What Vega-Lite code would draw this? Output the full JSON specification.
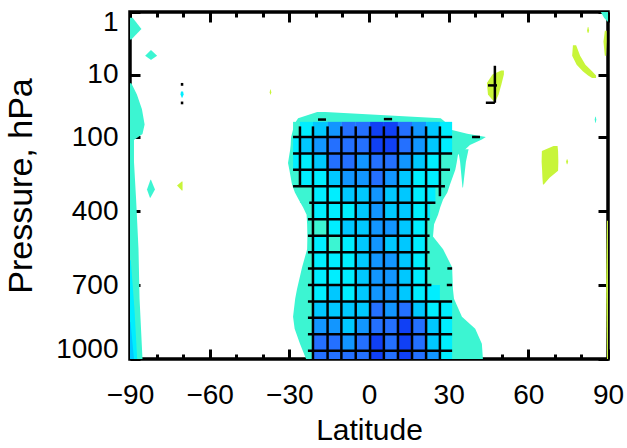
{
"$schema":"https://vega.github.io/schema/vega-lite/v6.json",
"width":478,"height":347,
"autosize":{"type":"none"},
"padding":{"left":130,"top":12,"right":19,"bottom":89},
"background":"white",
"datasets":{
"blobs":[
{"id":"core","c":"T","p":41,"l":-19.5,"r":-16.5},
{"id":"core","c":"T","p":50,"l":-26.7,"r":27},
{"id":"core","c":"T","p":57.5,"l":-27.5,"r":28.5},
{"id":"core","c":"T","p":77,"l":-28.6,"r":30.5},
{"id":"core","c":"T","p":90,"l":-29,"r":37},
{"id":"core","c":"T","p":100,"l":-29.3,"r":44},
{"id":"core","c":"T","p":110,"l":-29.4,"r":42.5},
{"id":"core","c":"T","p":132,"l":-29.5,"r":38},
{"id":"core","c":"T","p":153,"l":-29.7,"r":36},
{"id":"core","c":"T","p":172,"l":-30,"r":33.5},
{"id":"core","c":"T","p":205,"l":-30.5,"r":33},
{"id":"core","c":"T","p":233,"l":-30,"r":32.5},
{"id":"core","c":"T","p":293,"l":-29,"r":30.5},
{"id":"core","c":"T","p":325,"l":-27.9,"r":29.5},
{"id":"core","c":"T","p":353,"l":-26.5,"r":27.9},
{"id":"core","c":"T","p":386,"l":-24.8,"r":26.8},
{"id":"core","c":"T","p":415,"l":-23.5,"r":26},
{"id":"core","c":"T","p":454,"l":-23.3,"r":24.5},
{"id":"core","c":"T","p":503,"l":-23.2,"r":24.1},
{"id":"core","c":"T","p":555,"l":-23.3,"r":27.9},
{"id":"core","c":"T","p":628,"l":-25.2,"r":31.3},
{"id":"core","c":"T","p":716,"l":-27.1,"r":31.6},
{"id":"core","c":"T","p":756,"l":-27.8,"r":32},
{"id":"core","c":"T","p":829,"l":-28.6,"r":35},
{"id":"core","c":"T","p":877,"l":-28,"r":40},
{"id":"core","c":"T","p":938,"l":-26,"r":42.5},
{"id":"core","c":"T","p":1000,"l":-23.7,"r":42.9},
{"id":"spk","c":"T","p":150,"l":33.5,"r":37.5},
{"id":"spk","c":"T","p":200,"l":34.3,"r":36.5},
{"id":"spk","c":"T","p":305,"l":35.2,"r":35.4},
{"id":"ls","c":"T","p":14.7,"l":-90,"r":-89.5},
{"id":"ls","c":"T","p":21,"l":-90,"r":-87.4},
{"id":"ls","c":"T","p":37,"l":-90,"r":-85.5},
{"id":"ls","c":"T","p":64,"l":-90,"r":-84.5},
{"id":"ls","c":"T","p":91,"l":-90,"r":-85.3},
{"id":"ls","c":"T","p":112,"l":-90,"r":-88.5},
{"id":"ls","c":"T","p":200,"l":-90,"r":-88.5},
{"id":"ls","c":"T","p":353,"l":-90,"r":-87.7},
{"id":"ls","c":"T","p":555,"l":-90,"r":-86.8},
{"id":"ls","c":"T","p":756,"l":-90,"r":-86.4},
{"id":"ls","c":"T","p":1000,"l":-90,"r":-85.3},
{"id":"lt","c":"T","p":1.3,"l":-90,"r":-89},
{"id":"lt","c":"T","p":1.9,"l":-90,"r":-85.7},
{"id":"lt","c":"T","p":2.8,"l":-90,"r":-89.5},
{"id":"d1","c":"T","p":4.2,"l":-82.2,"r":-82},
{"id":"d1","c":"T","p":5,"l":-84.3,"r":-79.8},
{"id":"d1","c":"T","p":5.9,"l":-82.2,"r":-82},
{"id":"d2","c":"T","p":273,"l":-82.3,"r":-82.1},
{"id":"d2","c":"T","p":313,"l":-83.6,"r":-80.6},
{"id":"d2","c":"T","p":346,"l":-82.5,"r":-82.3},
{"id":"cd","c":"C","p":19,"l":-70.8,"r":-70},
{"id":"cd","c":"C","p":21,"l":-71,"r":-69.8},
{"id":"cd","c":"C","p":24,"l":-70.5,"r":-70.3},
{"id":"tr","c":"T","p":1,"l":87.3,"r":90},
{"id":"tr","c":"T","p":1.3,"l":88.5,"r":90},
{"id":"tr","c":"T","p":1.5,"l":89.8,"r":90},
{"id":"td","c":"T","p":48,"l":85.2,"r":85.4},
{"id":"td","c":"T","p":53,"l":85,"r":85.6},
{"id":"td","c":"T","p":60,"l":85.2,"r":85.4},
{"id":"y1","c":"Y","p":280,"l":-70.5,"r":-70.2},
{"id":"y1","c":"Y","p":297,"l":-72.3,"r":-70.2},
{"id":"y1","c":"Y","p":317,"l":-70.5,"r":-70.2},
{"id":"y2","c":"Y","p":18,"l":-37.2,"r":-37},
{"id":"y2","c":"Y","p":19.5,"l":-37.4,"r":-36.8},
{"id":"y2","c":"Y","p":21,"l":-37.2,"r":-37},
{"id":"y3","c":"Y","p":8.8,"l":49.8,"r":50.8},
{"id":"y3","c":"Y","p":10,"l":46.5,"r":50.8},
{"id":"y3","c":"Y","p":14.5,"l":44.4,"r":50},
{"id":"y3","c":"Y","p":21,"l":44.8,"r":48.8},
{"id":"y3","c":"Y","p":27.5,"l":47,"r":47.6},
{"id":"y4","c":"Y","p":3.5,"l":76.8,"r":78},
{"id":"y4","c":"Y","p":5,"l":76.5,"r":79.5},
{"id":"y4","c":"Y","p":7,"l":78.2,"r":81.5},
{"id":"y4","c":"Y","p":9,"l":80.5,"r":84},
{"id":"y4","c":"Y","p":10.5,"l":82.5,"r":85.5},
{"id":"y4","c":"Y","p":11.8,"l":84,"r":85.5},
{"id":"y5","c":"Y","p":2,"l":88.8,"r":89.5},
{"id":"y5","c":"Y","p":3,"l":88.3,"r":89.5},
{"id":"y5","c":"Y","p":5,"l":88.8,"r":89.3},
{"id":"y6","c":"Y","p":1.8,"l":82.4,"r":82.6},
{"id":"y6","c":"Y","p":2,"l":82.1,"r":82.9},
{"id":"y6","c":"Y","p":2.2,"l":82.4,"r":82.6},
{"id":"y7","c":"Y","p":136,"l":69.5,"r":71},
{"id":"y7","c":"Y","p":157,"l":65.1,"r":71.2},
{"id":"y7","c":"Y","p":200,"l":65,"r":71.3},
{"id":"y7","c":"Y","p":237,"l":65.2,"r":71.2},
{"id":"y7","c":"Y","p":265,"l":65.3,"r":68},
{"id":"y7","c":"Y","p":293,"l":65.5,"r":65.8},
{"id":"y8","c":"Y","p":190,"l":74.5,"r":74.7},
{"id":"y8","c":"Y","p":200,"l":74.2,"r":75},
{"id":"y8","c":"Y","p":210,"l":74.5,"r":74.7},
{"id":"y9","c":"Y","p":440,"l":89.6,"r":90},
{"id":"y9","c":"Y","p":700,"l":89.3,"r":90},
{"id":"y9","c":"Y","p":1000,"l":89.6,"r":90}
],
"strip":[
{"id":"lc","c":"C","p":600,"l":-90,"r":-89.7},
{"id":"lc","c":"C","p":800,"l":-90,"r":-88.3},
{"id":"lc","c":"C","p":1000,"l":-90,"r":-87.3},
{"id":"lb","c":"L","p":850,"l":-90,"r":-89.8},
{"id":"lb","c":"L","p":1000,"l":-90,"r":-88.5}
],
"cells":[
{"a":-28.6,"b":-26,"p":58,"q":100,"c":"T"},{"a":-26,"b":-21.1,"p":58,"q":100,"c":"C"},{"a":-21.1,"b":-15.6,"p":58,"q":100,"c":"L"},{"a":-15.6,"b":-10.4,"p":58,"q":100,"c":"M"},{"a":-10.4,"b":-5,"p":58,"q":100,"c":"B"},{"a":-5,"b":0.4,"p":58,"q":100,"c":"B"},{"a":0.4,"b":5.6,"p":58,"q":100,"c":"D"},{"a":5.6,"b":10.9,"p":58,"q":100,"c":"D"},{"a":10.9,"b":16.2,"p":58,"q":100,"c":"B"},{"a":16.2,"b":21.5,"p":58,"q":100,"c":"M"},{"a":21.5,"b":26.7,"p":58,"q":100,"c":"L"},{"a":26.7,"b":31.3,"p":58,"q":100,"c":"C"},
{"a":-28.6,"b":-26,"p":100,"q":167,"c":"C"},{"a":-26,"b":-21.1,"p":100,"q":167,"c":"L"},{"a":-21.1,"b":-15.6,"p":100,"q":167,"c":"M"},{"a":-15.6,"b":-10.4,"p":100,"q":167,"c":"B"},{"a":-10.4,"b":-5,"p":100,"q":167,"c":"B"},{"a":-5,"b":0.4,"p":100,"q":167,"c":"B"},{"a":0.4,"b":5.6,"p":100,"q":167,"c":"D"},{"a":5.6,"b":10.9,"p":100,"q":167,"c":"D"},{"a":10.9,"b":16.2,"p":100,"q":167,"c":"B"},{"a":16.2,"b":21.5,"p":100,"q":167,"c":"M"},{"a":21.5,"b":26.7,"p":100,"q":167,"c":"L"},{"a":26.7,"b":31.3,"p":100,"q":167,"c":"C"},
{"a":-28.6,"b":-26,"p":167,"q":233,"c":"C"},{"a":-26,"b":-21.1,"p":167,"q":233,"c":"C"},{"a":-21.1,"b":-15.6,"p":167,"q":233,"c":"L"},{"a":-15.6,"b":-10.4,"p":167,"q":233,"c":"B"},{"a":-10.4,"b":-5,"p":167,"q":233,"c":"B"},{"a":-5,"b":0.4,"p":167,"q":233,"c":"M"},{"a":0.4,"b":5.6,"p":167,"q":233,"c":"B"},{"a":5.6,"b":10.9,"p":167,"q":233,"c":"B"},{"a":10.9,"b":16.2,"p":167,"q":233,"c":"M"},{"a":16.2,"b":21.5,"p":167,"q":233,"c":"L"},{"a":21.5,"b":26.7,"p":167,"q":233,"c":"C"},{"a":26.7,"b":31.3,"p":167,"q":233,"c":"T"},
{"a":-28.6,"b":-26,"p":233,"q":300,"c":"T"},{"a":-26,"b":-21.1,"p":233,"q":300,"c":"C"},{"a":-21.1,"b":-15.6,"p":233,"q":300,"c":"C"},{"a":-15.6,"b":-10.4,"p":233,"q":300,"c":"L"},{"a":-10.4,"b":-5,"p":233,"q":300,"c":"M"},{"a":-5,"b":0.4,"p":233,"q":300,"c":"M"},{"a":0.4,"b":5.6,"p":233,"q":300,"c":"B"},{"a":5.6,"b":10.9,"p":233,"q":300,"c":"M"},{"a":10.9,"b":16.2,"p":233,"q":300,"c":"L"},{"a":16.2,"b":21.5,"p":233,"q":300,"c":"C"},{"a":21.5,"b":26.7,"p":233,"q":300,"c":"C"},{"a":26.7,"b":28.6,"p":233,"q":300,"c":"T"},
{"a":-26,"b":-21.1,"p":300,"q":367,"c":"T"},{"a":-21.1,"b":-15.6,"p":300,"q":367,"c":"C"},{"a":-15.6,"b":-10.4,"p":300,"q":367,"c":"C"},{"a":-10.4,"b":-5,"p":300,"q":367,"c":"L"},{"a":-5,"b":0.4,"p":300,"q":367,"c":"L"},{"a":0.4,"b":5.6,"p":300,"q":367,"c":"M"},{"a":5.6,"b":10.9,"p":300,"q":367,"c":"L"},{"a":10.9,"b":16.2,"p":300,"q":367,"c":"L"},{"a":16.2,"b":21.5,"p":300,"q":367,"c":"C"},{"a":21.5,"b":25,"p":300,"q":367,"c":"C"},
{"a":-21.1,"b":-15.6,"p":367,"q":433,"c":"C"},{"a":-15.6,"b":-10.4,"p":367,"q":433,"c":"C"},{"a":-10.4,"b":-5,"p":367,"q":433,"c":"C"},{"a":-5,"b":0.4,"p":367,"q":433,"c":"L"},{"a":0.4,"b":5.6,"p":367,"q":433,"c":"M"},{"a":5.6,"b":10.9,"p":367,"q":433,"c":"L"},{"a":10.9,"b":16.2,"p":367,"q":433,"c":"L"},{"a":16.2,"b":21.5,"p":367,"q":433,"c":"C"},{"a":21.5,"b":23,"p":367,"q":433,"c":"C"},
{"a":-21.1,"b":-15.6,"p":433,"q":500,"c":"T"},{"a":-15.6,"b":-10.4,"p":433,"q":500,"c":"C"},{"a":-10.4,"b":-5,"p":433,"q":500,"c":"L"},{"a":-5,"b":0.4,"p":433,"q":500,"c":"L"},{"a":0.4,"b":5.6,"p":433,"q":500,"c":"M"},{"a":5.6,"b":10.9,"p":433,"q":500,"c":"M"},{"a":10.9,"b":16.2,"p":433,"q":500,"c":"L"},{"a":16.2,"b":21.5,"p":433,"q":500,"c":"C"},
{"a":-21.1,"b":-15.6,"p":500,"q":567,"c":"C"},{"a":-15.6,"b":-10.4,"p":500,"q":567,"c":"T"},{"a":-10.4,"b":-5,"p":500,"q":567,"c":"C"},{"a":-5,"b":0.4,"p":500,"q":567,"c":"L"},{"a":0.4,"b":5.6,"p":500,"q":567,"c":"M"},{"a":5.6,"b":10.9,"p":500,"q":567,"c":"L"},{"a":10.9,"b":16.2,"p":500,"q":567,"c":"L"},{"a":16.2,"b":21.5,"p":500,"q":567,"c":"C"},
{"a":-21.1,"b":-15.6,"p":567,"q":633,"c":"C"},{"a":-15.6,"b":-10.4,"p":567,"q":633,"c":"C"},{"a":-10.4,"b":-5,"p":567,"q":633,"c":"C"},{"a":-5,"b":0.4,"p":567,"q":633,"c":"L"},{"a":0.4,"b":5.6,"p":567,"q":633,"c":"M"},{"a":5.6,"b":10.9,"p":567,"q":633,"c":"M"},{"a":10.9,"b":16.2,"p":567,"q":633,"c":"L"},{"a":16.2,"b":21.5,"p":567,"q":633,"c":"C"},
{"a":-21.1,"b":-15.6,"p":633,"q":700,"c":"C"},{"a":-15.6,"b":-10.4,"p":633,"q":700,"c":"C"},{"a":-10.4,"b":-5,"p":633,"q":700,"c":"C"},{"a":-5,"b":0.4,"p":633,"q":700,"c":"L"},{"a":0.4,"b":5.6,"p":633,"q":700,"c":"M"},{"a":5.6,"b":10.9,"p":633,"q":700,"c":"M"},{"a":10.9,"b":16.2,"p":633,"q":700,"c":"L"},{"a":16.2,"b":21.5,"p":633,"q":700,"c":"C"},
{"a":-21.1,"b":-15.6,"p":700,"q":767,"c":"C"},{"a":-15.6,"b":-10.4,"p":700,"q":767,"c":"L"},{"a":-10.4,"b":-5,"p":700,"q":767,"c":"C"},{"a":-5,"b":0.4,"p":700,"q":767,"c":"L"},{"a":0.4,"b":5.6,"p":700,"q":767,"c":"M"},{"a":5.6,"b":10.9,"p":700,"q":767,"c":"M"},{"a":10.9,"b":16.2,"p":700,"q":767,"c":"L"},{"a":16.2,"b":21.5,"p":700,"q":767,"c":"C"},{"a":21.5,"b":26.7,"p":700,"q":767,"c":"C"},
{"a":-21.1,"b":-15.6,"p":767,"q":833,"c":"L"},{"a":-15.6,"b":-10.4,"p":767,"q":833,"c":"L"},{"a":-10.4,"b":-5,"p":767,"q":833,"c":"L"},{"a":-5,"b":0.4,"p":767,"q":833,"c":"L"},{"a":0.4,"b":5.6,"p":767,"q":833,"c":"B"},{"a":5.6,"b":10.9,"p":767,"q":833,"c":"M"},{"a":10.9,"b":16.2,"p":767,"q":833,"c":"B"},{"a":16.2,"b":21.5,"p":767,"q":833,"c":"L"},{"a":21.5,"b":26.7,"p":767,"q":833,"c":"C"},{"a":26.7,"b":31.3,"p":767,"q":833,"c":"C"},
{"a":-21.1,"b":-15.6,"p":833,"q":900,"c":"M"},{"a":-15.6,"b":-10.4,"p":833,"q":900,"c":"M"},{"a":-10.4,"b":-5,"p":833,"q":900,"c":"L"},{"a":-5,"b":0.4,"p":833,"q":900,"c":"M"},{"a":0.4,"b":5.6,"p":833,"q":900,"c":"B"},{"a":5.6,"b":10.9,"p":833,"q":900,"c":"B"},{"a":10.9,"b":16.2,"p":833,"q":900,"c":"D"},{"a":16.2,"b":21.5,"p":833,"q":900,"c":"B"},{"a":21.5,"b":26.7,"p":833,"q":900,"c":"L"},{"a":26.7,"b":31.3,"p":833,"q":900,"c":"C"},
{"a":-21.1,"b":-15.6,"p":900,"q":967,"c":"B"},{"a":-15.6,"b":-10.4,"p":900,"q":967,"c":"B"},{"a":-10.4,"b":-5,"p":900,"q":967,"c":"M"},{"a":-5,"b":0.4,"p":900,"q":967,"c":"B"},{"a":0.4,"b":5.6,"p":900,"q":967,"c":"D"},{"a":5.6,"b":10.9,"p":900,"q":967,"c":"B"},{"a":10.9,"b":16.2,"p":900,"q":967,"c":"D"},{"a":16.2,"b":21.5,"p":900,"q":967,"c":"B"},{"a":21.5,"b":26.7,"p":900,"q":967,"c":"L"},{"a":26.7,"b":31.3,"p":900,"q":967,"c":"C"},
{"a":-21.1,"b":-15.6,"p":967,"q":1000,"c":"B"},{"a":-15.6,"b":-10.4,"p":967,"q":1000,"c":"B"},{"a":-10.4,"b":-5,"p":967,"q":1000,"c":"B"},{"a":-5,"b":0.4,"p":967,"q":1000,"c":"B"},{"a":0.4,"b":5.6,"p":967,"q":1000,"c":"D"},{"a":5.6,"b":10.9,"p":967,"q":1000,"c":"B"},{"a":10.9,"b":16.2,"p":967,"q":1000,"c":"D"},{"a":16.2,"b":21.5,"p":967,"q":1000,"c":"B"},{"a":21.5,"b":26.7,"p":967,"q":1000,"c":"M"},{"a":26.7,"b":31.3,"p":967,"q":1000,"c":"C"}
],
"hatch":[
{"a":-26,"b":-26,"p":68,"q":300},
{"a":-21.1,"b":-21.1,"p":68,"q":1000},
{"a":-15.6,"b":-15.6,"p":68,"q":1000},
{"a":-10.4,"b":-10.4,"p":68,"q":1000},
{"a":-5,"b":-5,"p":68,"q":1000},
{"a":0.4,"b":0.4,"p":68,"q":1000},
{"a":5.6,"b":5.6,"p":68,"q":1000},
{"a":10.9,"b":10.9,"p":68,"q":1000},
{"a":16.2,"b":16.2,"p":68,"q":1000},
{"a":21.5,"b":21.5,"p":68,"q":1000},
{"a":26.7,"b":26.7,"p":68,"q":340},
{"a":26.7,"b":26.7,"p":767,"q":1000},
{"a":47.4,"b":47.4,"p":7.3,"q":28.6},
{"a":-70.4,"b":-70.4,"p":14.5,"q":16},
{"a":-70.4,"b":-70.4,"p":27.5,"q":30},
{"a":-28.6,"b":31.3,"p":100,"q":100},
{"a":-28.6,"b":31.3,"p":167,"q":167},
{"a":-28.6,"b":30.5,"p":233,"q":233},
{"a":-28.6,"b":28.6,"p":300,"q":300},
{"a":-22.5,"b":25,"p":367,"q":367},
{"a":-23,"b":22.8,"p":433,"q":433},
{"a":-23,"b":22.8,"p":500,"q":500},
{"a":-23,"b":22.8,"p":567,"q":567},
{"a":-23,"b":23,"p":633,"q":633},
{"a":29.5,"b":31.3,"p":633,"q":633},
{"a":-23,"b":23.5,"p":700,"q":700},
{"a":29.3,"b":31.3,"p":700,"q":700},
{"a":-23,"b":31.3,"p":767,"q":767},
{"a":-23,"b":31.3,"p":833,"q":833},
{"a":-23,"b":31.3,"p":900,"q":900},
{"a":-23,"b":31.3,"p":967,"q":967},
{"a":-19.2,"b":-16.2,"p":53,"q":53},
{"a":5.6,"b":8.7,"p":52,"q":52},
{"a":38.8,"b":41.8,"p":100,"q":100},
{"a":44.8,"b":48.2,"p":15.8,"q":15.8},
{"a":44,"b":47.4,"p":28.6,"q":28.6}
]
},
"layer":[
{
"data":{"name":"blobs"},
"mark":{"type":"area","orient":"horizontal"},
"encoding":{
"y":{"field":"p","type":"quantitative","scale":{"type":"linear","domain":[1,2,3,5,7,10,20,30,50,70,100,1000],"range":[0,18.8,29.8,43.7,52.8,62.5,81.3,92.3,106.2,115.3,125,347],"nice":false,"zero":false},
"axis":{"orient":"left","values":[1,10,100,400,700,1000],"format":"d","offset":-10,"tickSize":10,"domain":false,"labelPadding":12,"labelFlush":true,"labelFlushOffset":4,"labelOverlap":false,"title":"Pressure, hPa","titlePadding":17,"titleFontSize":34}},
"x":{"field":"l","type":"quantitative","scale":{"domain":[-90,90],"nice":false,"zero":false},
"axis":{"orient":"bottom","values":[-90,-60,-30,0,30,60,90],"offset":-10,"tickSize":10,"domain":false,"labelPadding":22,"labelFlush":false,"labelOverlap":false,"title":"Latitude","titlePadding":6}},
"x2":{"field":"r"},
"detail":{"field":"id","type":"nominal"},
"color":{"field":"c","type":"nominal","legend":null,"scale":{"domain":["T","C","L","M","B","D","Y"],"range":["#3CF5D2","#00EEFF","#00C8FF","#1296FF","#2470FF","#1040F5","#C8F53A"]}}
}
},
{
"data":{"name":"strip"},
"mark":{"type":"area","orient":"horizontal"},
"encoding":{
"y":{"field":"p","type":"quantitative",
"axis":{"orient":"right","values":[1,10,100,400,700,1000],"offset":-10,"tickSize":10,"domain":false,"labels":false,"title":null}},
"x":{"field":"l","type":"quantitative",
"axis":{"orient":"bottom","values":[-80,-70,-50,-40,-20,-10,10,20,40,50,70,80],"offset":-5,"tickSize":5,"domain":false,"labels":false,"title":null}},
"x2":{"field":"r"},
"detail":{"field":"id","type":"nominal"},
"color":{"field":"c","type":"nominal","legend":null}
}
},
{
"data":{"name":"cells"},
"mark":{"type":"rect"},
"encoding":{
"x":{"field":"a","type":"quantitative",
"axis":{"orient":"top","values":[-90,-60,-30,0,30,60,90],"offset":-10,"tickSize":10,"domain":false,"labels":false,"title":null}},
"x2":{"field":"b"},
"y":{"field":"p","type":"quantitative","axis":null},
"y2":{"field":"q"},
"color":{"field":"c","type":"nominal","legend":null}
}
},
{
"data":{"name":"hatch"},
"mark":{"type":"rule","color":"black","strokeWidth":2.5},
"encoding":{
"x":{"field":"a","type":"quantitative",
"axis":{"orient":"top","values":[-80,-70,-50,-40,-20,-10,10,20,40,50,70,80],"offset":-5,"tickSize":5,"domain":false,"labels":false,"title":null}},
"x2":{"field":"b"},
"y":{"field":"p","type":"quantitative","axis":null},
"y2":{"field":"q"}
}
}
],
"resolve":{"axis":{"x":"independent","y":"independent"}},
"config":{
"font":"Liberation Sans",
"view":{"stroke":"black","strokeWidth":3.5},
"axis":{"tickColor":"black","tickWidth":3,"labelFontSize":28,"labelColor":"black","labelFont":"Liberation Sans","titleFont":"Liberation Sans","titleFontSize":30,"titleFontWeight":"normal","titleColor":"black","grid":false,"zindex":1}
}
}
